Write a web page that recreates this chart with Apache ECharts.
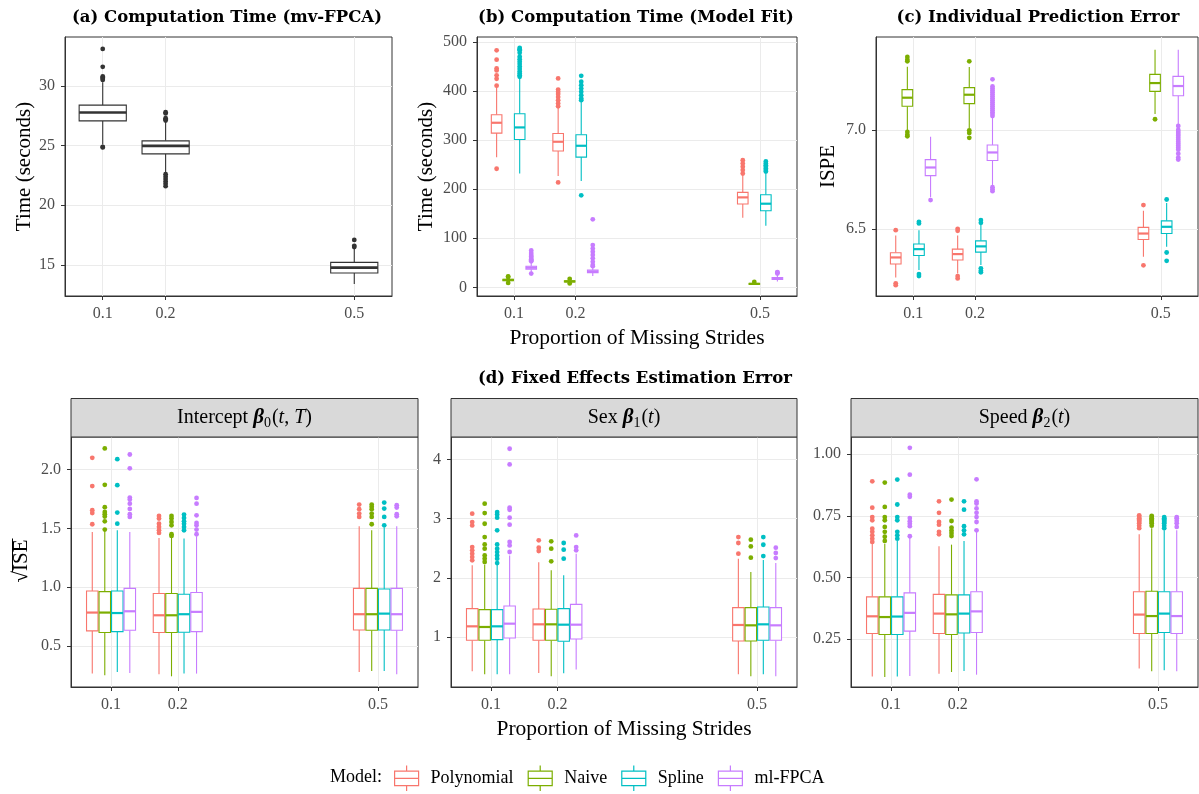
<!DOCTYPE html>
<html><head><meta charset="utf-8">
<script src="https://cdn.jsdelivr.net/npm/echarts@6/dist/echarts.min.js"></script>
<style>html,body{margin:0;padding:0;background:#fff}#c{width:1199px;height:794px}</style>
</head><body><div id="c"></div>
<script>
// ---------------- data ----------------
const proportions = [0.1, 0.2, 0.5];
const models = ['Polynomial', 'Naive', 'Spline', 'ml-FPCA'];

// box stats: [lower whisker, Q1, median, Q3, upper whisker], indexed [proportion]
const mvfpcaBoxes = [[25.1, 27.07, 27.77, 28.39, 30.3], [22.7, 24.31, 24.98, 25.40, 27.0], [13.41, 14.33, 14.78, 15.22, 16.4]];
const mvfpcaOutliers = [[33.1, 31.6, 30.8, 30.7, 30.6, 30.5, 24.9, 24.85], [27.8, 27.7, 27.3, 27.2, 27.1, 22.6, 22.4, 22.2, 22.0, 21.8, 21.6], [16.5, 16.6, 17.1]];

// indexed [model][proportion]
const fitBoxes = [
  [[265, 314.3, 335.4, 351.7, 409], [226.7, 277.7, 296.7, 313.6, 368], [141.9, 169.7, 183.3, 193.5, 228.8]],
  [[10, 13.5, 15, 16.5, 20], [9, 11, 12, 13.5, 16], [4.5, 6, 7, 8, 10]],
  [[232, 301.4, 325.9, 353.7, 426], [216.6, 265.4, 288.5, 311, 378], [125.6, 156.1, 170.4, 188.7, 232]],
  [[29, 37, 40, 43, 52], [23, 30, 32, 35, 42], [12, 16, 18, 20, 26]]
];
const fitOutliers = [
  [[483, 464, 446, 442, 432, 425, 411, 241.7], [425.7, 403, 398.5, 394, 388, 381.5, 374.7, 369, 213.8], [259, 252.5, 245.8, 239, 232]],
  [[21, 22, 9], [17, 8], [11]],
  [[488, 485, 483, 478, 470, 465, 460, 455, 450, 445, 440, 436, 432, 429], [431, 419, 412, 405, 398.5, 391.7, 385, 381.5, 187.4], [256.6, 252.5, 249, 245.8, 242, 239, 236]],
  [[75, 70, 66, 63, 60, 57, 55, 53, 28], [138.5, 86, 79, 72.6, 66, 59, 52, 45.5, 43], [28, 30, 31]]
];

const ispeBoxes = [
  [[6.254, 6.322, 6.355, 6.379, 6.466], [6.274, 6.342, 6.372, 6.397, 6.466], [6.359, 6.446, 6.476, 6.507, 6.591]],
  [[6.998, 7.12, 7.163, 7.204, 7.32], [7.007, 7.133, 7.178, 7.214, 7.318], [7.08, 7.195, 7.237, 7.281, 7.406]],
  [[6.291, 6.365, 6.397, 6.423, 6.493], [6.317, 6.382, 6.411, 6.439, 6.519], [6.409, 6.476, 6.51, 6.54, 6.63]],
  [[6.66, 6.769, 6.81, 6.85, 6.965], [6.72, 6.845, 6.886, 6.924, 7.06], [7.03, 7.173, 7.222, 7.271, 7.406]]
];
const ispeOutliers = [
  [[6.493, 6.224, 6.215], [6.5, 6.49, 6.261, 6.249], [6.62, 6.315]],
  [[7.369, 7.355, 7.347, 6.99, 6.976, 6.968], [7.347, 6.998, 6.985, 6.96], [7.054]],
  [[6.535, 6.527, 6.271, 6.261], [6.544, 6.53, 6.3, 6.288, 6.28], [6.648, 6.38, 6.338]],
  [[6.645], [7.256, 7.22, 7.21, 7.2, 7.19, 7.18, 7.17, 7.16, 7.15, 7.14, 7.13, 7.12, 7.11, 7.10, 7.09, 7.08, 7.07, 6.71, 6.70, 6.69],
   [7.02, 7.0, 6.99, 6.98, 6.97, 6.96, 6.95, 6.94, 6.93, 6.92, 6.91, 6.90, 6.88, 6.86, 6.85]]
];

const interceptBoxes = [
  [[0.265, 0.628, 0.784, 0.968, 1.47], [0.259, 0.614, 0.761, 0.946, 1.419], [0.279, 0.636, 0.77, 0.99, 1.518]],
  [[0.25, 0.614, 0.784, 0.962, 1.48], [0.242, 0.614, 0.761, 0.946, 1.428], [0.287, 0.633, 0.77, 0.99, 1.484]],
  [[0.279, 0.622, 0.78, 0.968, 1.484], [0.265, 0.617, 0.77, 0.94, 1.413], [0.287, 0.636, 0.775, 0.985, 1.507]],
  [[0.27, 0.633, 0.795, 0.99, 1.47], [0.265, 0.622, 0.79, 0.954, 1.433], [0.259, 0.633, 0.77, 0.99, 1.518]]
];
const interceptOutliers = [
  [[2.10, 1.86, 1.654, 1.63, 1.535], [1.606, 1.583, 1.54, 1.512, 1.484, 1.461], [1.702, 1.663, 1.626, 1.597]],
  [[2.18, 1.87, 1.68, 1.64, 1.62, 1.6, 1.56, 1.49], [1.606, 1.583, 1.555, 1.526, 1.45, 1.436], [1.702, 1.683, 1.663, 1.626, 1.597, 1.535]],
  [[2.088, 1.867, 1.634, 1.54], [1.617, 1.589, 1.56, 1.54, 1.512, 1.484], [1.719, 1.668, 1.597, 1.526]],
  [[2.128, 2.011, 1.762, 1.745, 1.71, 1.665, 1.62, 1.597], [1.759, 1.71, 1.611, 1.546, 1.526, 1.49, 1.45], [1.697, 1.677, 1.62, 1.603]]
];

const sexBoxes = [
  [[0.42, 0.944, 1.18, 1.479, 2.211], [0.392, 0.944, 1.214, 1.473, 2.262], [0.369, 0.932, 1.203, 1.496, 2.324]],
  [[0.37, 0.944, 1.169, 1.462, 2.222], [0.335, 0.944, 1.214, 1.468, 2.127], [0.335, 0.932, 1.197, 1.496, 2.099]],
  [[0.37, 0.955, 1.18, 1.462, 2.239], [0.386, 0.927, 1.208, 1.479, 2.042], [0.369, 0.944, 1.214, 1.507, 2.30]],
  [[0.37, 0.983, 1.225, 1.524, 2.38], [0.448, 0.966, 1.208, 1.552, 2.408], [0.335, 0.944, 1.197, 1.496, 2.25]]
];
const sexOutliers = [
  [[3.085, 2.944, 2.887, 2.52, 2.465, 2.408, 2.352, 2.296], [2.634, 2.51, 2.454], [2.69, 2.589, 2.408]],
  [[3.254, 3.096, 2.915, 2.69, 2.566, 2.493, 2.38, 2.324, 2.268], [2.617, 2.493, 2.279], [2.645, 2.532, 2.341]],
  [[3.113, 3.073, 3.017, 2.803, 2.566, 2.493, 2.436, 2.38, 2.324, 2.25], [2.589, 2.476, 2.324], [2.69, 2.56, 2.369]],
  [[4.183, 3.918, 3.186, 3.152, 3.017, 2.899, 2.606, 2.549, 2.437], [2.718, 2.521, 2.465], [2.51, 2.42, 2.335]]
];

const speedBoxes = [
  [[0.098, 0.272, 0.342, 0.421, 0.637], [0.109, 0.272, 0.353, 0.431, 0.626], [0.13, 0.272, 0.349, 0.442, 0.675]],
  [[0.096, 0.268, 0.339, 0.421, 0.637], [0.116, 0.268, 0.35, 0.429, 0.633], [0.119, 0.272, 0.343, 0.444, 0.70]],
  [[0.098, 0.268, 0.341, 0.421, 0.648], [0.12, 0.274, 0.353, 0.429, 0.648], [0.123, 0.276, 0.353, 0.442, 0.691]],
  [[0.10, 0.282, 0.356, 0.437, 0.664], [0.105, 0.276, 0.362, 0.442, 0.685], [0.119, 0.272, 0.343, 0.442, 0.691]]
];
const speedOutliers = [
  [[0.89, 0.783, 0.745, 0.732, 0.698, 0.685, 0.671, 0.657, 0.644], [0.809, 0.762, 0.725, 0.714, 0.685, 0.675], [0.752, 0.745, 0.74, 0.735, 0.73, 0.725, 0.72, 0.71, 0.70]],
  [[0.885, 0.786, 0.745, 0.732, 0.705, 0.685, 0.665, 0.648], [0.816, 0.729, 0.702, 0.69, 0.68, 0.668], [0.75, 0.745, 0.74, 0.735, 0.73, 0.725, 0.72, 0.71]],
  [[0.897, 0.796, 0.745, 0.732, 0.685, 0.671, 0.657], [0.809, 0.775, 0.708, 0.691, 0.675], [0.745, 0.74, 0.735, 0.73, 0.725, 0.72, 0.71, 0.70]],
  [[1.026, 0.917, 0.836, 0.827, 0.741, 0.728, 0.718, 0.708, 0.667], [0.898, 0.809, 0.8, 0.78, 0.762, 0.745, 0.725, 0.691], [0.745, 0.74, 0.73, 0.72, 0.705]]
];

// tick labels
const ticksA = [15, 20, 25, 30];
const ticksB = [0, 100, 200, 300, 400, 500];
const ticksC = [6.5, 7.0];
const ticksD1 = [0.5, 1.0, 1.5, 2.0];
const ticksD2 = [1, 2, 3, 4];
const ticksD3 = [0.25, 0.50, 0.75, 1.00];

// ---------------- style ----------------
const modelColors = ['#F8766D', '#7CAE00', '#00BFC4', '#C77CFF'];
const SERIF = '"Liberation Serif", "Times New Roman", serif';
const BOLD = '"DejaVu Serif", serif';
const DODGE = 0.01875, BOX_W = 0.0172, MV_BOX_W = 0.075;
const LW = 1.1;

const grids = [
  {left: 65, top: 37, width: 327, height: 259},
  {left: 477, top: 37, width: 320, height: 259},
  {left: 876, top: 37, width: 322, height: 259},
  {left: 71, top: 437, width: 347, height: 250},
  {left: 451, top: 437, width: 346, height: 250},
  {left: 851, top: 437, width: 347, height: 250}
].map(g => Object.assign(g, {show: true, borderColor: '#333333', borderWidth: 1, backgroundColor: 'transparent', containLabel: false}));

function xAxisCfg(gi, name) {
  return {
    type: 'value', gridIndex: gi, min: 0.04, max: 0.56,
    name: name || '', nameLocation: 'middle', nameGap: 31,
    nameTextStyle: {fontFamily: SERIF, fontSize: 21.5, color: '#000'},
    axisLine: {show: true, onZero: false, lineStyle: {color: '#333333', width: 1}},
    axisTick: {show: true, length: 4, customValues: proportions, lineStyle: {color: '#333333', width: 1}},
    axisLabel: {customValues: proportions, color: '#4D4D4D', fontSize: 16, fontFamily: SERIF, margin: 10,
      formatter: v => v.toFixed(1)},
    splitLine: {show: true, lineStyle: {color: '#EBEBEB', width: 1}}
  };
}
function yAxisCfg(gi, min, max, ticks, fmt, name, gap) {
  return {
    type: 'value', gridIndex: gi, min: min, max: max,
    name: name || '', nameLocation: 'middle', nameGap: gap || 30, nameRotate: 90,
    nameTextStyle: {fontFamily: SERIF, fontSize: 21, color: '#000'},
    axisLine: {show: true, onZero: false, lineStyle: {color: '#333333', width: 1}},
    axisTick: {show: true, length: 4, customValues: ticks, lineStyle: {color: '#333333', width: 1}},
    axisLabel: {customValues: ticks, color: '#4D4D4D', fontSize: 16, fontFamily: SERIF, margin: 10, formatter: fmt},
    splitLine: {show: true, lineStyle: {color: '#EBEBEB', width: 1}}
  };
}

function makeRender(boxWidth, lw, medW) {
  return function (params, api) {
    const x = api.value(0);
    const c = api.visual('color');
    const p = i => api.coord([x, api.value(i)]);
    const lo = p(1), q1 = p(2), md = p(3), q3 = p(4), hi = p(5);
    const hw = api.size([boxWidth, 0])[0] / 2;
    const X = lo[0];
    return {type: 'group', children: [
      {type: 'line', shape: {x1: X, y1: lo[1], x2: X, y2: q1[1]}, style: {stroke: c, lineWidth: lw}},
      {type: 'line', shape: {x1: X, y1: q3[1], x2: X, y2: hi[1]}, style: {stroke: c, lineWidth: lw}},
      {type: 'rect', shape: {x: X - hw, y: q3[1], width: 2 * hw, height: q1[1] - q3[1]}, style: {fill: '#fff', stroke: c, lineWidth: lw}},
      {type: 'line', shape: {x1: X - hw, y1: md[1], x2: X + hw, y2: md[1]}, style: {stroke: c, lineWidth: medW}}
    ]};
  };
}

const series = [];
function addBoxSeries(name, color, gi, boxes, outliers, offset, boxWidth, medW) {
  const xs = proportions.map(p => p + offset);
  series.push({
    type: 'scatter', name: name, xAxisIndex: gi, yAxisIndex: gi, symbolSize: 4.8, z: 2,
    itemStyle: {color: color, opacity: 1}, silent: true,
    data: outliers.flatMap((arr, j) => arr.map(v => [xs[j], v]))
  });
  series.push({
    type: 'custom', name: name, xAxisIndex: gi, yAxisIndex: gi, z: 3,
    itemStyle: {color: color}, silent: true,
    renderItem: makeRender(boxWidth, LW, medW),
    encode: {x: 0, y: [1, 2, 3, 4, 5]},
    data: boxes.map((b, j) => [xs[j]].concat(b))
  });
}

addBoxSeries('mv-FPCA', '#333333', 0, mvfpcaBoxes, mvfpcaOutliers, 0, MV_BOX_W, 2.6);
const panelData = [[1, fitBoxes, fitOutliers], [2, ispeBoxes, ispeOutliers], [3, interceptBoxes, interceptOutliers],
  [4, sexBoxes, sexOutliers], [5, speedBoxes, speedOutliers]];
panelData.forEach(([gi, boxes, outs]) => {
  models.forEach((m, i) => addBoxSeries(m, modelColors[i], gi, boxes[i], outs[i], (i - 1.5) * DODGE, BOX_W, 2.2));
});

// measure text for the sqrt overline
const ctx = document.createElement('canvas').getContext('2d');
ctx.font = '21px ' + SERIF;
const wAll = ctx.measureText('\u221AISE').width;
const wRoot = ctx.measureText('\u221A').width;

const stripFont = 20;
const rich = {
  n: {fontFamily: SERIF, fontSize: stripFont, color: '#1A1A1A'},
  b: {fontFamily: SERIF, fontSize: stripFont + 1, fontWeight: 'bold', fontStyle: 'italic', color: '#1A1A1A'},
  i: {fontFamily: SERIF, fontSize: stripFont, fontStyle: 'italic', color: '#1A1A1A'},
  s: {fontFamily: SERIF, fontSize: 14, color: '#1A1A1A', padding: [10, 1, 0, 0]}
};
const strips = [
  {g: grids[3], text: '{n|Intercept }{b|β}{s|0}{n|(}{i|t}{n|, }{i|T}{n|)}'},
  {g: grids[4], text: '{n|Sex }{b|β}{s|1}{n|(}{i|t}{n|)}'},
  {g: grids[5], text: '{n|Speed }{b|β}{s|2}{n|(}{i|t}{n|)}'}
];
const graphics = [];
strips.forEach(s => {
  graphics.push({type: 'rect', shape: {x: s.g.left, y: 398.5, width: s.g.width, height: 38.5},
    style: {fill: '#D9D9D9', stroke: '#333333', lineWidth: 1}, z: 10});
  graphics.push({type: 'text', x: s.g.left + s.g.width / 2, y: 418, z: 11,
    style: {text: s.text, rich: rich, align: 'center', verticalAlign: 'middle'}});
});
const titles = [
  ['(a) Computation Time (mv-FPCA)', 227, 18],
  ['(b) Computation Time (Model Fit)', 636, 18],
  ['(c) Individual Prediction Error', 1038, 18],
  ['(d) Fixed Effects Estimation Error', 635, 379]
];
titles.forEach(([t, x, y]) => graphics.push({type: 'text', x: x, y: y, z: 11,
  style: {text: t, font: 'bold 16.5px ' + BOLD, fill: '#000', align: 'center', verticalAlign: 'middle'}}));
graphics.push({type: 'group', x: 21, y: 561, rotation: Math.PI / 2, z: 11, children: [
  {type: 'text', x: 0, y: 0, style: {text: '\u221AISE', font: '21px ' + SERIF, fill: '#000', align: 'center', verticalAlign: 'middle'}},
  {type: 'line', shape: {x1: -wAll / 2 + wRoot - 1, y1: -8.5, x2: wAll / 2 + 1, y2: -8.5}, style: {stroke: '#000', lineWidth: 1}}
]});
graphics.push({type: 'text', x: 330, y: 777, z: 11,
  style: {text: 'Model:', font: '18px ' + SERIF, fill: '#000', align: 'left', verticalAlign: 'middle'}});

const boxIcon = 'path://M12,0L12,5.5M0,5.5L24,5.5L24,20L0,20ZM0,12.7L24,12.7M12,20L12,25.5';

const option = {
  animation: false,
  backgroundColor: '#fff',
  grid: grids,
  xAxis: [xAxisCfg(0), xAxisCfg(1, 'Proportion of Missing Strides'), xAxisCfg(2), xAxisCfg(3), xAxisCfg(4, 'Proportion of Missing Strides'), xAxisCfg(5)],
  yAxis: [
    yAxisCfg(0, 12.4, 34.1, ticksA, v => String(v), 'Time (seconds)', 29),
    yAxisCfg(1, -17.7, 510.2, ticksB, v => String(v), 'Time (seconds)', 40),
    yAxisCfg(2, 6.16, 7.47, ticksC, v => v.toFixed(1), 'ISPE', 37),
    yAxisCfg(3, 0.151, 2.277, ticksD1, v => v.toFixed(1)),
    yAxisCfg(4, 0.154, 4.382, ticksD2, v => String(v)),
    yAxisCfg(5, 0.055, 1.07, ticksD3, v => v.toFixed(2))
  ],
  legend: {
    data: models.map((m, i) => ({name: m, icon: boxIcon,
      itemStyle: {color: '#fff', borderColor: modelColors[i], borderWidth: 1.2}})),
    left: 389, top: 760, itemWidth: 24, itemHeight: 25.5, itemGap: 14, selectedMode: false,
    textStyle: {fontFamily: SERIF, fontSize: 18, color: '#000', padding: [0, 0, 0, 7]}
  },
  graphic: graphics,
  series: series
};
const chart = echarts.init(document.getElementById('c'), null, {renderer: 'canvas'});
chart.setOption(option);
</script></body></html>
